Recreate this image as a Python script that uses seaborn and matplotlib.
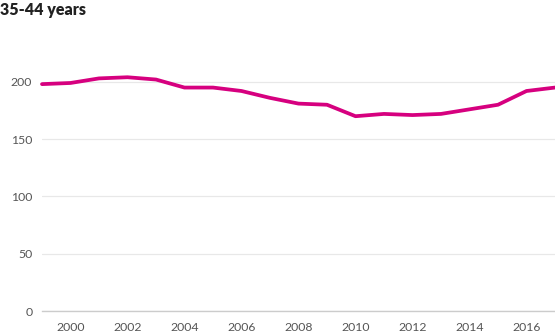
import matplotlib
matplotlib.use("Agg")
import matplotlib.pyplot as plt
import seaborn as sns
import pandas as pd

years = list(range(1999, 2018))
values = [198, 199, 203, 204, 202, 195, 195, 192, 186, 181, 180, 170, 172, 171, 172, 176, 180, 192, 195]
y_ticks = [0, 50, 100, 150, 200]
x_ticks = [2000, 2002, 2004, 2006, 2008, 2010, 2012, 2014, 2016]
title = "35-44 years"

sns.set_theme(style="white")
plt.rcParams['font.family'] = ['Lato', 'DejaVu Sans']

df = pd.DataFrame({"year": years, "value": values})

fig = plt.figure(figsize=(5.55, 3.35), dpi=100)
ax = fig.add_axes([42/555, 24/335, 513/555, 275/335])
sns.lineplot(data=df, x="year", y="value", ax=ax, color="#d6007f", linewidth=2.7, clip_on=False)
ax.set_xlim(1999, 2017)
ax.set_ylim(0, 240)
ax.set_yticks(y_ticks)
ax.set_xticks(x_ticks)
ax.set_xticklabels([str(x) for x in x_ticks])
ax.set_yticklabels([str(y) for y in y_ticks])
ax.grid(axis="y", color="#e8e8e8", linewidth=0.9)
ax.set_axisbelow(True)
for s in ["top", "right", "left"]:
    ax.spines[s].set_visible(False)
ax.spines["bottom"].set_color("#cccccc")
ax.spines["bottom"].set_linewidth(1)
ax.tick_params(axis="both", length=0, labelsize=8.8, colors="#555555")
ax.tick_params(axis="x", pad=8)
ax.tick_params(axis="y", pad=7)
ax.set_xlabel("")
ax.set_ylabel("")
fig.text(0.0, 0.995, title, ha="left", va="top", fontsize=11.5, fontweight="heavy", color="#222222")
fig.savefig("out.png", dpi=100)
